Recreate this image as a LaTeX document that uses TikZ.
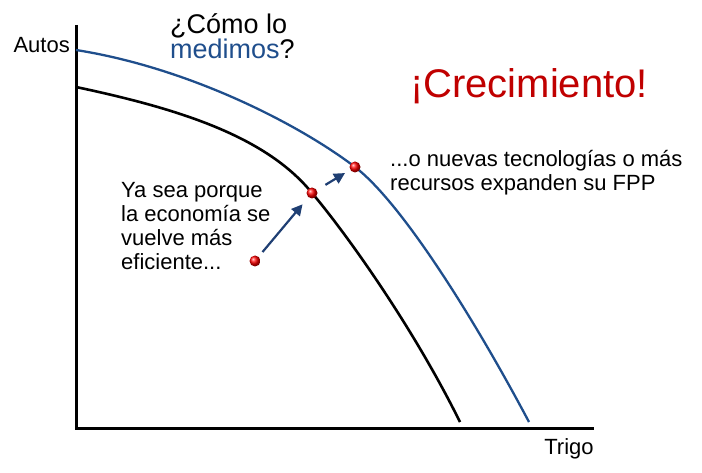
\documentclass[tikz,border=0pt]{standalone}
\usepackage{fontspec}
\setmainfont{Liberation Sans}
\usetikzlibrary{arrows.meta}
\definecolor{fppblue}{HTML}{1F4E8C}
\definecolor{arrblue}{HTML}{1F3F73}
\definecolor{crecred}{HTML}{C00000}
\tikzset{
  axis/.style={line width=3pt},
  fppold/.style={line width=2.6pt, black},
  fppnew/.style={line width=2.3pt, fppblue},
  dot/.style={circle, inner sep=0pt, minimum size=11pt, shading=ball, ball color=red},
  arr/.style={line width=2.2pt, arrblue, -{Triangle[length=11pt,width=11pt]}},
  lbl/.style={inner sep=0pt, font=\fontsize{22}{24}\selectfont, align=left},
}
\begin{document}
\begin{tikzpicture}[x=1pt,y=-1pt]
\useasboundingbox (0,0) rectangle (702,473);
% axes
\coordinate (O) at (76,428);
\coordinate (Ytop) at (76,25);
\coordinate (Xend) at (594,428);
\draw[axis] (Ytop) -- (O) -- (Xend);
% curves
\draw[fppold] (76,87) .. controls (175,108) and (265,135) .. (312,193)
  .. controls (345,232) and (412,325) .. (460,422);
\draw[fppnew] (76,50) .. controls (190,68) and (300,125) .. (355,167)
  .. controls (402,203) and (475,320) .. (529,422);
% dots
\node[dot] (d1) at (255,261) {};
\node[dot] (d2) at (312,193) {};
\node[dot] (d3) at (355,167) {};
\draw[arr, shorten <=6pt, shorten >=9pt] (d1) -- (d2);
\draw[arr, shorten <=10pt, shorten >=6pt] (d2) -- (d3);
% labels
\node[lbl, anchor=east] (autos) at (70,45) {Autos};
\node[lbl, anchor=north] (trigo) at (569,438) {Trigo};
\node[inner sep=0pt, font=\fontsize{27}{25}\selectfont, align=left, anchor=north west] (como) at (170,13) {¿Cómo lo\\\textcolor{fppblue}{medimos}?};
\node[inner sep=0pt, font=\fontsize{40}{40}\selectfont, text=crecred, anchor=center] (crec) at (529,86) {¡Crecimiento!};
\node[lbl, anchor=north west] (ya) at (121,182) {Ya sea porque\\la economía se\\vuelve más\\eficiente...};
\node[lbl, anchor=north west] (nuevas) at (390,150) {...o nuevas tecnologías o más\\recursos expanden su FPP};
\end{tikzpicture}
\end{document}
